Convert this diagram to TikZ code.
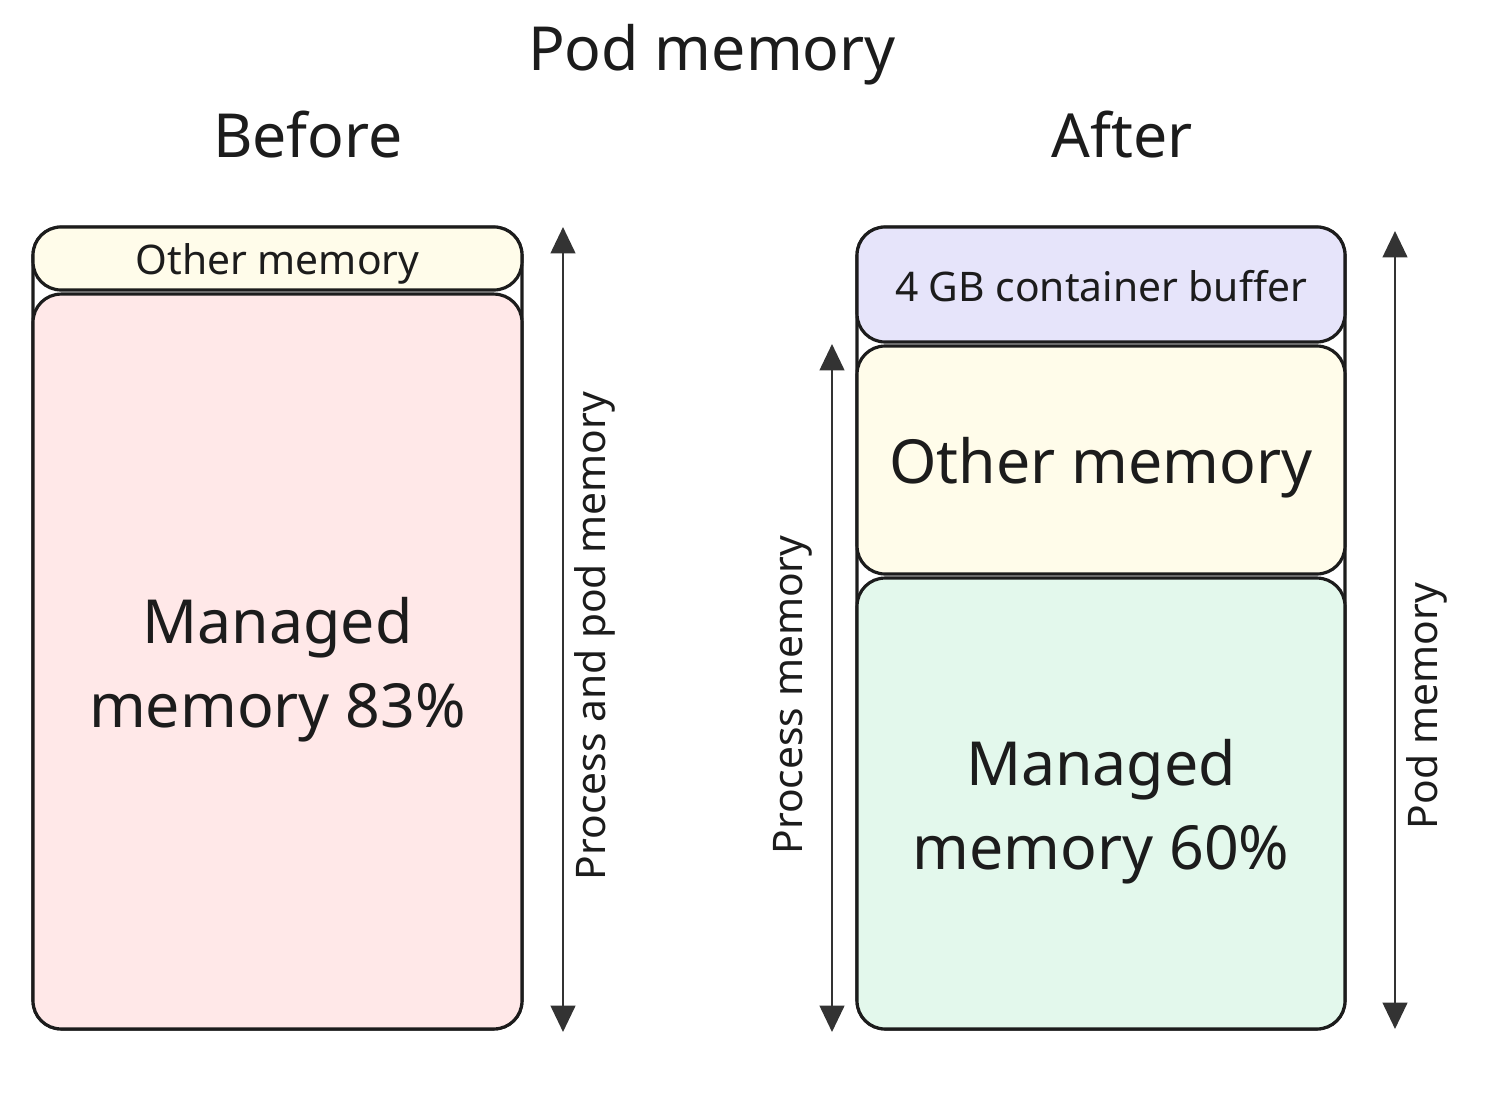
\documentclass[tikz,border=0pt]{standalone}
\usepackage{fontspec}
\setmainfont{Noto Sans}
\usetikzlibrary{arrows.meta}
\definecolor{ink}{HTML}{1C1C1C}
\definecolor{arrowgray}{HTML}{333333}
\definecolor{othfill}{HTML}{FFFCEA}
\definecolor{mgdred}{HTML}{FFE8E8}
\definecolor{buffill}{HTML}{E6E4FA}
\definecolor{mgdgreen}{HTML}{E3F8EC}
\newcommand{\bigtxt}{\fontsize{34.6}{47.5}\selectfont}
\newcommand{\smalltxt}{\fontsize{23.2}{28}\selectfont}
\begin{document}
\begin{tikzpicture}[x=0.02cm,y=-0.02cm,
  membox/.style={draw=ink, line width=1.8pt, rounded corners=0.56cm, inner sep=0pt},
  boxtext/.style={text=ink, align=center, inner sep=0pt},
  outerbox/.style={draw=ink, line width=1.8pt, rounded corners=0.56cm, fill=white, inner sep=0pt},
  span/.style={draw=arrowgray, line width=1.4pt, {Triangle[width=14pt,length=15pt]}-{Triangle[width=14pt,length=15pt]}},
  title/.style={text=ink, font=\bigtxt, anchor=base},
  sidelabel/.style={text=ink, font=\smalltxt, rotate=90}]
\useasboundingbox (0,0) rectangle (1500,1092);
% titles
\node[title] (podtitle) at (712,70) {Pod memory};
\node[title] (before) at (308,157) {Before};
\node[title] (after) at (1122,157) {After};
% before column
\node[outerbox, minimum width=9.78cm, minimum height=16.04cm] (bouter) at (277.5,628) {};
\node[membox, fill=othfill, minimum width=9.78cm, minimum height=1.26cm] (bother) at (277.5,258.5) {};
\node[boxtext, font=\smalltxt] (bothertxt) at ([yshift=-0.1cm]bother.center) {Other memory};
\node[membox, fill=mgdred, minimum width=9.78cm, minimum height=14.7cm] (bmanaged) at (277.5,661.5) {};
\node[boxtext, font=\bigtxt] (bmanagedtxt) at ([yshift=-0.16cm]bmanaged.center) {Managed\\memory 83\%};
\coordinate (batop) at (563,227);
\coordinate (babot) at (563,1032);
\draw[span] (babot) -- (batop);
\node[sidelabel] (blabel) at (595,636) {Process and pod memory};
% after column
\node[outerbox, minimum width=9.76cm, minimum height=16.04cm] (aouter) at (1101,628) {};
\node[membox, fill=buffill, minimum width=9.76cm, minimum height=2.3cm] (abuffer) at (1101,284.5) {};
\node[boxtext, font=\smalltxt] (abuffertxt) at ([yshift=-0.03cm]abuffer.center) {4 GB container buffer};
\node[membox, fill=othfill, minimum width=9.76cm, minimum height=4.56cm] (aother) at (1101,460) {};
\node[boxtext, font=\bigtxt] (aothertxt) at ([yshift=-0.16cm]aother.center) {Other memory};
\node[membox, fill=mgdgreen, minimum width=9.76cm, minimum height=9.02cm] (amanaged) at (1101,803.5) {};
\node[boxtext, font=\bigtxt] (amanagedtxt) at ([yshift=-0.16cm]amanaged.center) {Managed\\memory 60\%};
\coordinate (pmtop) at (832,344);
\coordinate (pmbot) at (832,1032);
\draw[span] (pmbot) -- (pmtop);
\node[sidelabel] (pmlabel) at (793,695) {Process memory};
\coordinate (podtop) at (1395,231);
\coordinate (podbot) at (1395,1029);
\draw[span] (podbot) -- (podtop);
\node[sidelabel] (podlabel) at (1427,706) {Pod memory};
\end{tikzpicture}
\end{document}
